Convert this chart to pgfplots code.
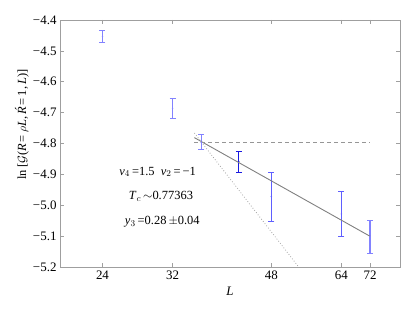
\documentclass[border=0pt]{standalone}
\usepackage{pgfplots}
\pgfplotsset{compat=1.18}
\usepackage{fontspec}
\setmainfont{Liberation Serif}
\definecolor{bluelight}{RGB}{130,130,255}
\definecolor{bluemedium}{RGB}{95,95,255}
\definecolor{bluedark}{RGB}{25,25,225}
\definecolor{fitgray}{RGB}{128,128,128}
\definecolor{dashgray}{RGB}{150,150,150}
\definecolor{dotgray}{RGB}{165,165,165}
\pgfplotstableread{
L y err
24 -4.454 0.019
32 -4.686 0.033
36 -4.796 0.024
72 -5.102 0.053
}\lightdata
\pgfplotstableread{
L y err
48 -4.972 0.079
64 -5.028 0.073
}\middata
\pgfplotstableread{
L y err
42 -4.858 0.034
}\darkdata
\begin{document}
\begin{tikzpicture}
\path[use as bounding box] (-60bp,-45bp) rectangle (355bp,267bp);
\begin{axis}[
  at={(0,0)}, anchor=south west,
  scale only axis, width=340bp, height=247bp,
  xmode=log, xmin=20.16, xmax=81.4,
  ymin=-5.2, ymax=-4.4,
  xtick={24,32,48,64,72}, xticklabels={24,32,48,64,72},
  minor xtick={}, minor ytick={},
  ytick={-5.2,-5.1,-5.0,-4.9,-4.8,-4.7,-4.6,-4.5,-4.4},
  yticklabels={−5.2,−5.1,−5.0,−4.9,−4.8,−4.7,−4.6,−4.5,−4.4},
  tick align=inside, major tick length=4bp,
  axis line style={draw=gray!75, line width=0.8bp},
  tick style={draw=gray!75, line width=0.6bp},
  tick label style={font=\fontsize{13}{15}\selectfont},
  xlabel={\textit{L}},
  xlabel style={at={(axis description cs:0.5,-0.1)}, anchor=center, font=\fontsize{13}{15}\selectfont},
  ylabel={ln\,[$\mathcal{G}$(\textit{R}\,=\,$\rho$\textit{L},\,\'{\textit{R}}\,=\,1,\,\textit{L})]},
  ylabel style={at={(axis description cs:-0.112,0.577)}, anchor=center, rotate=0, font=\fontsize{12.5}{14}\selectfont},
  error bars/y dir=both, error bars/y explicit,
]
% error bars
\addplot[bluelight, only marks, mark=*, mark size=0.5bp, mark options={bluelight},
  error bars/error bar style={line width=1.3bp, bluelight},
  error bars/error mark options={rotate=90, mark size=3bp, line width=0.8bp, bluelight}]
  table[x=L, y=y, y error=err] {\lightdata};
\addplot[bluemedium, only marks, mark=*, mark size=0.5bp, mark options={bluemedium},
  error bars/error bar style={line width=1.3bp, bluemedium},
  error bars/error mark options={rotate=90, mark size=3bp, line width=0.8bp, bluemedium}]
  table[x=L, y=y, y error=err] {\middata};
\addplot[bluedark, only marks, mark=*, mark size=0.5bp, mark options={bluedark},
  error bars/error bar style={line width=1.3bp, bluedark},
  error bars/error mark options={rotate=90, mark size=3bp, line width=0.8bp, bluedark}]
  table[x=L, y=y, y error=err] {\darkdata};
% fit lines
\addplot[fitgray, line width=0.9bp] coordinates {(35,-4.781) (72,-5.1006)};
\addplot[dashgray, line width=0.9bp, dash pattern=on 4bp off 3bp] coordinates {(35,-4.796) (72,-4.796)};
\addplot[dotgray, line width=0.8bp, dotted] coordinates {(35,-4.766) (53.7,-5.2)};
% annotations
\node[font=\fontsize{12.5}{14}\selectfont] at (rel axis cs:0.287,0.385) {\textit{v}$_4$\,=1.5\enspace\textit{v}$_2$\,=\,−1};
\node[font=\fontsize{12.5}{14}\selectfont] at (rel axis cs:0.297,0.287) {\textit{T}$_c$\,$\sim$0.77363};
\node[font=\fontsize{12.5}{14}\selectfont] at (rel axis cs:0.301,0.182) {\textit{y}$_3$\,=0.28\,$\pm$0.04};
\end{axis}
\end{tikzpicture}
\end{document}
